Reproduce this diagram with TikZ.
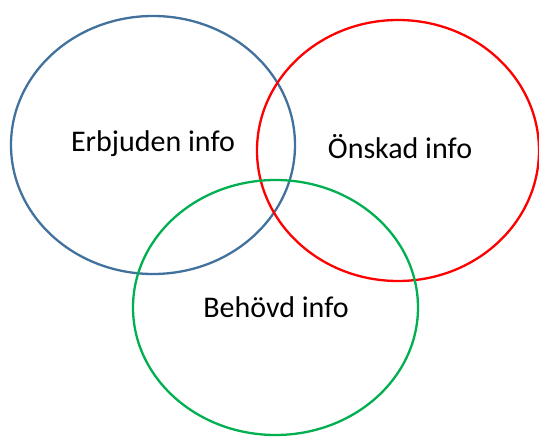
\documentclass[tikz,border=0pt]{standalone}
\usepackage{fontspec}
\setmainfont{Carlito}
\usepackage{xcolor}
\usepackage{tikz}
\definecolor{ebblue}{HTML}{41719C}
\definecolor{onred}{HTML}{FF0000}
\definecolor{begreen}{HTML}{00B050}
\definecolor{ink}{HTML}{000000}
\tikzset{
  ring/.style={line width=2.3pt},
  lab/.style={text=ink, anchor=base, font=\fontsize{30}{36}\selectfont},
}
\begin{document}
\begin{tikzpicture}[x=1pt,y=-1pt]
  \useasboundingbox (0,0) rectangle (539,438);

  \draw[ring,draw=ebblue]  (153,145)   ellipse [x radius=142pt, y radius=129pt];
  \draw[ring,draw=onred]   (398,150.5) ellipse [x radius=141pt, y radius=130.5pt];
  \draw[ring,draw=begreen] (275.5,307.5) ellipse [x radius=142.5pt, y radius=127.5pt];

  \node[lab] (erb) at (153,152) {Erbjuden info};
  \node[lab] (ons) at (400,159) {Önskad info};
  \node[lab] (beh) at (276,318) {Behövd info};
\end{tikzpicture}
\end{document}
